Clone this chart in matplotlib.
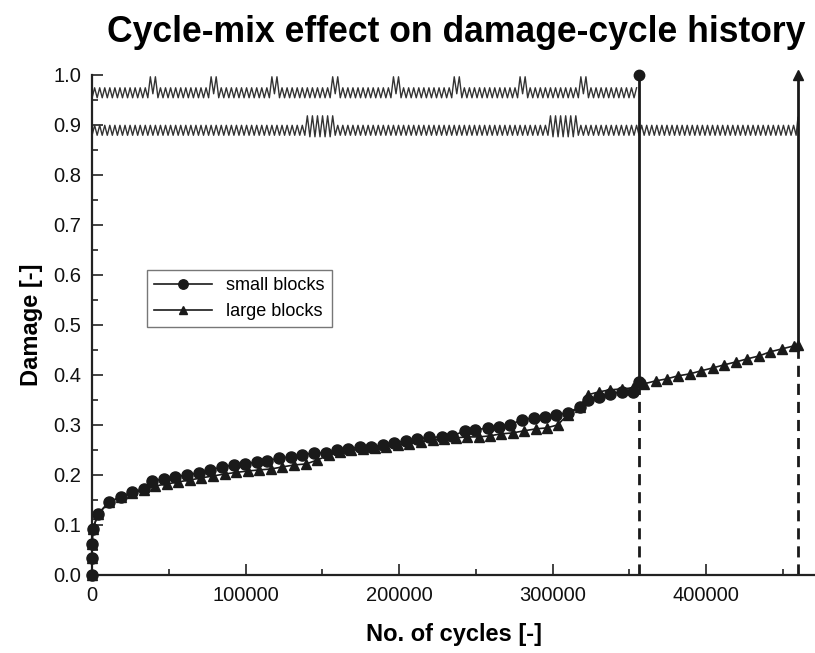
import matplotlib.pyplot as plt
import numpy as np
from matplotlib.ticker import MultipleLocator, FormatStrFormatter

plt.rcParams['font.family'] = ['Liberation Sans', 'DejaVu Sans']

# damage curves
small_cycles = [0, 0, 0, 500, 3900, 11100, 18900, 26100, 33900, 39100, 47000,
                54100, 62000, 69800, 77000, 84800, 92600, 99800, 107600, 114200,
                122000, 129800, 137000, 144800, 152600, 159800, 167000, 174800,
                182000, 189800, 197000, 204200, 212000, 219200, 227700, 234800,
                242700, 249800, 257700, 264800, 272000, 279800, 287700, 294800,
                302000, 309800, 317700, 322900, 330100, 337300, 345100, 352200,
                356200]
small_damage = [0.0, 0.034, 0.062, 0.092, 0.122, 0.146, 0.156, 0.166, 0.172,
                0.188, 0.192, 0.196, 0.200, 0.204, 0.210, 0.216, 0.220, 0.222,
                0.226, 0.228, 0.234, 0.236, 0.240, 0.244, 0.244, 0.250, 0.252,
                0.256, 0.256, 0.260, 0.264, 0.268, 0.272, 0.275, 0.276, 0.278,
                0.288, 0.290, 0.294, 0.296, 0.300, 0.310, 0.314, 0.316, 0.320,
                0.324, 0.336, 0.350, 0.356, 0.362, 0.366, 0.366, 0.386]

large_cycles = [0, 0, 0, 500, 3900, 11100, 18900, 26100, 33900, 41100, 48900,
                56100, 63900, 71100, 78900, 86800, 93900, 101800, 108900,
                116800, 124000, 131800, 139600, 146800, 154600, 161800, 169000,
                176800, 184000, 191800, 199000, 206800, 214000, 221800, 229000,
                236800, 244000, 251800, 259000, 266100, 274000, 281100, 289000,
                296100, 303300, 309800, 317700, 322900, 330100, 337200, 345100,
                352200, 359400, 367200, 374400, 381600, 389400, 396600, 404500,
                411700, 419600, 426800, 434700, 441600, 449500, 457300, 459900]
large_damage = [0.0, 0.034, 0.062, 0.092, 0.122, 0.146, 0.156, 0.164, 0.170,
                0.178, 0.182, 0.186, 0.190, 0.194, 0.198, 0.202, 0.205, 0.208,
                0.210, 0.212, 0.216, 0.220, 0.222, 0.230, 0.240, 0.246, 0.250,
                0.252, 0.254, 0.256, 0.260, 0.262, 0.266, 0.270, 0.272, 0.274,
                0.276, 0.276, 0.278, 0.282, 0.284, 0.288, 0.292, 0.294, 0.300,
                0.320, 0.336, 0.360, 0.366, 0.370, 0.372, 0.374, 0.382, 0.388,
                0.392, 0.398, 0.402, 0.408, 0.414, 0.420, 0.426, 0.432, 0.438,
                0.446, 0.452, 0.458, 0.460]

# schematic load sequences drawn at the top
small_fail = 356200
large_fail = 459900
small_spikes = [36500, 76500, 116500, 156500, 196500, 236500, 276500, 316500]
large_bursts = [(140000, 158000), (298000, 316600)]
load_period = 3300


def load_sequence(x_end, lo, hi):
    xs = np.arange(0, x_end, load_period / 2)
    ys = np.where(np.arange(len(xs)) % 2 == 0, lo, hi).astype(float)
    return xs, ys


sx, sy = load_sequence(small_fail, 0.954, 0.974)
for s in small_spikes:
    i = int(round(s / (load_period / 2)))
    if i % 2 == 0:
        i += 1
    sy[i] = 0.996
    sy[i + 1] = 0.962
    sy[i + 2] = 0.996

lx, ly = load_sequence(large_fail - 800, 0.879, 0.899)
for a, b in large_bursts:
    m = (lx >= a) & (lx <= b)
    ly[m] = np.where(ly[m] > 0.89, 0.918, 0.876)
lx = np.append(lx, large_fail)
ly = np.append(ly, 0.915)

fig = plt.figure(figsize=(8.15, 6.53), dpi=100)
ax = fig.add_axes([0.113, 0.1195, 0.887, 0.766])

ink = '#1a1a1a'
ax.plot(sx, sy, color='#333333', lw=1.0)
ax.plot(lx, ly, color='#333333', lw=1.0)

ax.plot(small_cycles, small_damage, color=ink, lw=1.2, marker='o', ms=8,
        mfc=ink, mec=ink, clip_on=False, zorder=4, label='small blocks')
ax.plot(large_cycles, large_damage, color=ink, lw=1.2, marker='^', ms=7,
        mfc=ink, mec=ink, clip_on=False, zorder=3, label='large blocks')

# failure lines
ax.plot([small_fail, small_fail], [small_damage[-1], 1.0], color=ink, lw=2)
ax.plot([small_fail, small_fail], [0, small_damage[-1]], color=ink, lw=2,
        ls=(0, (4, 2.5)))
ax.plot([small_fail], [1.0], marker='o', ms=7.5, color=ink, clip_on=False)
ax.plot([large_fail, large_fail], [large_damage[-1], 1.0], color=ink, lw=2)
ax.plot([large_fail, large_fail], [0, large_damage[-1]], color=ink, lw=2,
        ls=(0, (4, 2.5)))
ax.plot([large_fail], [1.0], marker='^', ms=7.5, color=ink, clip_on=False)

ax.set_xlim(0, 471000)
ax.set_ylim(0, 1.0)
ax.xaxis.set_major_locator(MultipleLocator(100000))
ax.xaxis.set_minor_locator(MultipleLocator(50000))
ax.yaxis.set_major_locator(MultipleLocator(0.1))
ax.yaxis.set_minor_locator(MultipleLocator(0.05))
ax.yaxis.set_major_formatter(FormatStrFormatter('%.1f'))

for s in ['top', 'right']:
    ax.spines[s].set_visible(False)
for s in ['left', 'bottom']:
    ax.spines[s].set_linewidth(1.6)
    ax.spines[s].set_color('#222222')

ax.tick_params(which='both', direction='in', color='#222222', width=1.2,
               labelsize=14.5, labelcolor='#111111')
ax.tick_params(which='major', length=8, pad=8)
ax.tick_params(which='minor', length=4)

ax.set_xlabel('No. of cycles [-]', fontsize=17, fontweight='bold', labelpad=13)
ax.set_ylabel('Damage [-]', fontsize=17, fontweight='bold', labelpad=7)
fig.suptitle('Cycle-mix effect on damage-cycle history', fontsize=25.6,
             fontweight='bold', x=0.56, y=0.977)

leg = ax.legend(loc='upper left', bbox_to_anchor=(0.076, 0.61),
                borderaxespad=0, fontsize=13, fancybox=False,
                handlelength=3.2, markerscale=0.85)
leg.get_frame().set_edgecolor('#555555')
leg.get_frame().set_linewidth(1.0)

plt.savefig('out.png', dpi=100)
